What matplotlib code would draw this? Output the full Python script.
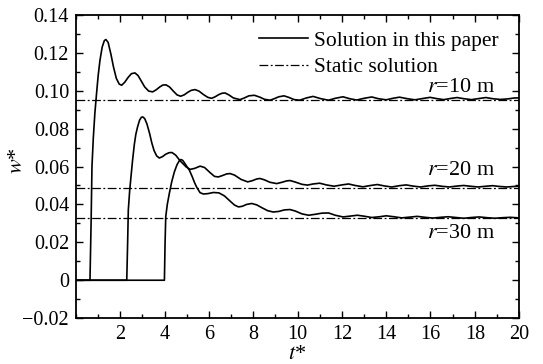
import numpy as np
import matplotlib
matplotlib.use("Agg")
import matplotlib.pyplot as plt
from matplotlib.ticker import MultipleLocator

plt.rcParams['font.family'] = ['Liberation Serif', 'DejaVu Serif']
plt.rcParams['mathtext.fontset'] = 'stix'
plt.rcParams['font.size'] = 14.5

# dynamic response, r = 10 m
t_r10 = [0, 0.63, 0.68, 0.72, 0.78, 0.85, 0.93, 1.0, 1.08, 1.18, 1.28, 1.35, 1.45, 1.58, 1.69,
         1.82, 1.95, 2.06, 2.2, 2.35, 2.5, 2.66, 2.8, 2.95, 3.1, 3.28, 3.46, 3.62, 3.78, 3.92,
         4.06, 4.22, 4.4, 4.56, 4.72, 4.88, 5.05, 5.2, 5.37, 5.55, 5.75, 5.95, 6.12, 6.28, 6.45,
         6.6, 6.73, 6.9, 7.1, 7.4, 7.6, 7.8, 8.05, 8.3, 8.5, 8.76, 8.95, 9.15, 9.39, 9.6, 9.85,
         10.1, 10.4, 10.7, 11.05, 11.4, 11.7, 12.05, 12.35, 12.67, 13.0, 13.35, 13.65, 14.0,
         14.3, 14.6, 14.95, 15.3, 15.65, 15.98, 16.3, 16.6, 16.9, 17.2, 17.5, 17.85, 18.2, 18.5,
         18.8, 19.15, 19.5, 19.8, 20]
w_r10 = [0, 0, 0.03, 0.06, 0.075, 0.088, 0.099, 0.108, 0.116, 0.123, 0.1265, 0.127, 0.1255,
         0.119, 0.1126, 0.1065, 0.1035, 0.1029, 0.1045, 0.107, 0.109, 0.1094, 0.108, 0.105,
         0.102, 0.0998, 0.0994, 0.1005, 0.102, 0.103, 0.1031, 0.102, 0.0997, 0.0978, 0.0971,
         0.0978, 0.0992, 0.1002, 0.1006, 0.0998, 0.098, 0.0965, 0.0960, 0.0968, 0.0980, 0.0987,
         0.0988, 0.0978, 0.0962, 0.0953, 0.0962, 0.0973, 0.0976, 0.0966, 0.0955, 0.0950, 0.0958,
         0.0968, 0.0973, 0.0965, 0.0953, 0.0950, 0.0962, 0.0970, 0.0958, 0.0950, 0.0960, 0.0968,
         0.0958, 0.0951, 0.0960, 0.0967, 0.0958, 0.0952, 0.0960, 0.0966, 0.0958, 0.0952, 0.0959,
         0.0965, 0.0958, 0.0953, 0.0959, 0.0964, 0.0958, 0.0953, 0.0959, 0.0964, 0.0958, 0.0954,
         0.0957, 0.0962, 0.0962]

# dynamic response, r = 20 m
t_r20 = [0, 2.29, 2.33, 2.36, 2.42, 2.48, 2.55, 2.63, 2.7, 2.78, 2.87, 2.95, 3.01, 3.1, 3.2,
         3.32, 3.42, 3.52, 3.64, 3.76, 3.9, 4.05, 4.2, 4.33, 4.5, 4.7, 4.97, 5.15, 5.35, 5.6,
         5.8, 6.05, 6.25, 6.42, 6.6, 6.8, 6.95, 7.15, 7.45, 7.75, 7.95, 8.15, 8.3, 8.5, 8.75,
         9.06, 9.3, 9.5, 9.66, 9.9, 10.2, 10.45, 10.7, 11.0, 11.3, 11.65, 12.0, 12.3, 12.6,
         12.95, 13.3, 13.6, 13.9, 14.25, 14.6, 14.9, 15.2, 15.55, 15.9, 16.2, 16.5, 16.85, 17.2,
         17.5, 17.8, 18.15, 18.5, 18.8, 19.1, 19.45, 19.8, 20]
w_r20 = [0, 0, 0.02, 0.037, 0.047, 0.0545, 0.063, 0.0715, 0.077, 0.081, 0.0845, 0.086, 0.0862,
         0.0853, 0.0825, 0.0775, 0.0725, 0.0685, 0.0656, 0.0645, 0.0652, 0.0665, 0.0673, 0.0674,
         0.066, 0.063, 0.0598, 0.0585, 0.059, 0.0602, 0.0595, 0.0568, 0.0548, 0.0545, 0.0552,
         0.0561, 0.0563, 0.0555, 0.0532, 0.0519, 0.0525, 0.0534, 0.0537, 0.053, 0.0517, 0.051,
         0.0517, 0.0524, 0.0526, 0.0518, 0.0506, 0.0502, 0.0508, 0.0512, 0.0503, 0.0496, 0.0503,
         0.0508, 0.0500, 0.0493, 0.0500, 0.0505, 0.0498, 0.0492, 0.0499, 0.0503, 0.0497, 0.0492,
         0.0498, 0.0501, 0.0496, 0.0492, 0.0497, 0.0500, 0.0496, 0.0492, 0.0496, 0.0499, 0.0495,
         0.0492, 0.0495, 0.0496]

# dynamic response, r = 30 m
t_r30 = [0, 3.99, 4.02, 4.05, 4.12, 4.21, 4.32, 4.44, 4.56, 4.66, 4.74, 4.82, 4.92, 5.02, 5.12,
         5.25, 5.35, 5.45, 5.6, 5.75, 5.95, 6.2, 6.45, 6.7, 6.95, 7.15, 7.33, 7.5, 7.7, 7.93,
         8.15, 8.4, 8.65, 8.9, 9.15, 9.4, 9.66, 9.9, 10.2, 10.5, 10.8, 11.1, 11.4, 11.7, 12.05,
         12.35, 12.7, 13.0, 13.35, 13.7, 14.0, 14.35, 14.7, 15.05, 15.4, 15.75, 16.1, 16.45,
         16.8, 17.15, 17.5, 17.85, 18.2, 18.55, 18.9, 19.25, 19.6, 20]
w_r30 = [0, 0, 0.02, 0.0335, 0.040, 0.0457, 0.052, 0.0572, 0.061, 0.063, 0.0637, 0.0632,
         0.0615, 0.0597, 0.058, 0.0545, 0.0515, 0.049, 0.0462, 0.0455, 0.0457, 0.0463, 0.0461,
         0.0445, 0.0418, 0.0397, 0.0387, 0.0390, 0.0400, 0.0405, 0.0398, 0.0382, 0.0367, 0.0360,
         0.0363, 0.0371, 0.0373, 0.0365, 0.0350, 0.0343, 0.0348, 0.0354, 0.0355, 0.0343, 0.0334,
         0.0338, 0.0343, 0.0338, 0.0331, 0.0335, 0.0340, 0.0335, 0.0329, 0.0333, 0.0337, 0.0332,
         0.0328, 0.0332, 0.0335, 0.0331, 0.0327, 0.0331, 0.0334, 0.0330, 0.0327, 0.0330, 0.0332,
         0.0329]

# static solutions
static_w = [0.095, 0.0485, 0.0326]
labels = ['$r$=10 m', '$r$=20 m', '$r$=30 m']
label_pos = [(15.85, 0.1018), (15.85, 0.058), (15.85, 0.0248)]

yticks = [-0.02, 0, 0.02, 0.04, 0.06, 0.08, 0.10, 0.12, 0.14]
yticklabels = ['\u22120.02', '0', '0.02', '0.04', '0.06', '0.08', '0.10', '0.12', '0.14']
xticks = [2, 4, 6, 8, 10, 12, 14, 16, 18, 20]

fig = plt.figure(figsize=(5.43, 3.64), dpi=100)
ax = fig.add_axes([0.14, 0.126, 0.816, 0.833])

lw = 1.2
ax.plot(t_r10, w_r10, color='black', lw=lw, label='Solution in this paper')
ax.plot(t_r20, w_r20, color='black', lw=lw)
ax.plot(t_r30, w_r30, color='black', lw=lw)
for i, s in enumerate(static_w):
    ax.axhline(s, color='black', lw=0.9, ls=(0, (7, 2, 1.5, 2)),
               label='Static solution' if i == 0 else None)

for lab, (x, y) in zip(labels, label_pos):
    ax.text(x, y, lab, ha='left', va='center', fontsize=16)

ax.set_xlim(0, 20)
ax.set_ylim(-0.02, 0.14)
ax.set_xticks(xticks)
ax.set_yticks(yticks)
ax.set_yticklabels(yticklabels)
ax.xaxis.set_minor_locator(MultipleLocator(1))
ax.yaxis.set_minor_locator(MultipleLocator(0.01))
ax.tick_params(which='both', direction='in', top=True, right=True, width=1.0)
ax.tick_params(which='major', length=5, pad=5)
ax.tick_params(which='minor', length=3)
for sp in ax.spines.values():
    sp.set_linewidth(1.3)

ax.set_xlabel('$t$*', labelpad=1, fontsize=16)
ax.set_ylabel('$w$*', fontsize=16)
ax.yaxis.set_label_coords(-0.11, 0.52)

ax.legend(loc='upper right', bbox_to_anchor=(0.997, 1.012), frameon=False,
          handlelength=2.3, handletextpad=0.25, labelspacing=0.3, fontsize=15.5)

fig.savefig('out.png', dpi=100)
